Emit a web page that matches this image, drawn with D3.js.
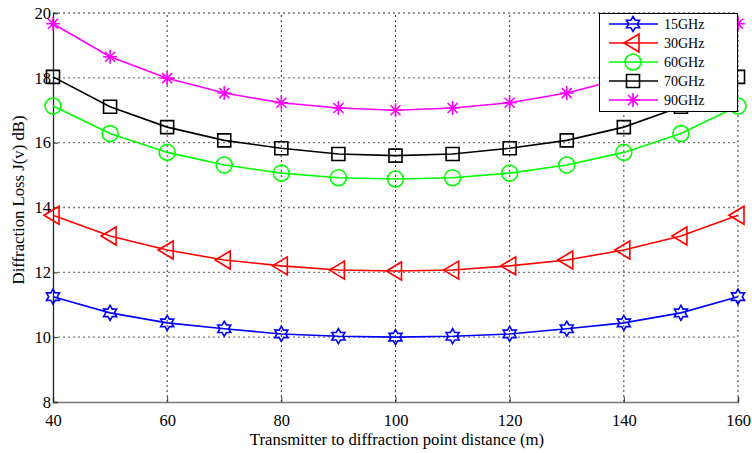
<!DOCTYPE html>
<html><head><meta charset="utf-8">
<script src="https://cdnjs.cloudflare.com/ajax/libs/d3/7.8.5/d3.min.js"></script>
<style>body{margin:0;background:#fff}svg{display:block}text{font-family:"Liberation Serif","Times New Roman",serif}</style>
</head><body><svg id="c" width="752" height="453"></svg>
<script>
const distances = [40,50,60,70,80,90,100,110,120,130,140,150,160];
const seriesNames = ["15GHz","30GHz","60GHz","70GHz","90GHz"];
const loss15 = [11.25,10.75,10.44,10.26,10.1,10.03,10.0,10.03,10.1,10.26,10.44,10.75,11.25];
const loss30 = [13.76,13.12,12.69,12.38,12.2,12.07,12.04,12.07,12.2,12.38,12.69,13.12,13.76];
const loss60 = [17.13,16.28,15.7,15.31,15.06,14.92,14.88,14.92,15.06,15.31,15.7,16.28,17.13];
const loss70 = [18.03,17.11,16.48,16.07,15.83,15.65,15.6,15.65,15.83,16.07,16.48,17.11,18.03];
const loss90 = [19.67,18.65,17.99,17.53,17.23,17.07,17.0,17.07,17.23,17.53,17.99,18.65,19.67];
const xTicks = [40,60,80,100,120,140,160];
const yTicks = [8,10,12,14,16,18,20];

const colors = ["#0000ff","#ff0000","#00ff00","#000000","#ff00ff"];
const markers = ["hexagram","triangleLeft","circle","square","asterisk"];
const allSeries = [loss15, loss30, loss60, loss70, loss90];

const svg = d3.select("#c");
const m = {l:53, r:14, t:13, b:51};
const W = 752, H = 453;
const x = d3.scaleLinear().domain([40,160]).range([m.l, W - m.r]);
const y = d3.scaleLinear().domain([8,20]).range([H - m.b, m.t]);

// grid
const g = svg.append("g");
g.selectAll(".hg").data(yTicks.filter(v => v > 8)).join("line")
  .attr("x1", x(40)).attr("x2", x(160)).attr("y1", d => y(d)).attr("y2", d => y(d))
  .attr("stroke", "#777").attr("stroke-width", 1.3).attr("stroke-dasharray", "2,3");
g.selectAll(".vg").data(xTicks.filter(v => v > 40)).join("line")
  .attr("y1", y(8)).attr("y2", y(20)).attr("x1", d => x(d)).attr("x2", d => x(d))
  .attr("stroke", "#333").attr("stroke-width", 1).attr("stroke-dasharray", "2,3");

// axes
const xAxis = svg.append("g").attr("transform", `translate(0,${y(8)})`)
  .call(d3.axisBottom(x).tickValues(xTicks).tickSize(-5).tickPadding(12));
xAxis.select(".domain").attr("stroke", "#777").attr("stroke-width", 1.6);
xAxis.selectAll(".tick line").attr("stroke", "#333");
xAxis.selectAll("text").attr("font-size", 16.5).attr("fill", "#000")
  .attr("font-family", "Liberation Serif");

const yAxis = svg.append("g").attr("transform", `translate(${x(40)},0)`)
  .call(d3.axisLeft(y).tickValues(yTicks).tickSize(-5).tickPadding(2));
yAxis.select(".domain").attr("stroke", "#222").attr("stroke-width", 1.3);
yAxis.selectAll(".tick line").attr("stroke", "#333");
yAxis.selectAll("text").attr("font-size", 16.5).attr("fill", "#000")
  .attr("font-family", "Liberation Serif");

// labels
svg.append("text").attr("x", 397).attr("y", 445).attr("text-anchor", "middle")
  .attr("font-size", 16.7).text("Transmitter to diffraction point distance (m)");
svg.append("text").attr("transform", "translate(24,200) rotate(-90)").attr("text-anchor", "middle")
  .attr("font-size", 16.7).text("Diffraction Loss J(v) dB)");

function markerPath(type) {
  const p = d3.path();
  if (type === "hexagram") {
    const R = 7.5, r = R / Math.sqrt(3);
    for (let i = 0; i < 12; i++) {
      const a = -Math.PI / 2 + i * Math.PI / 6;
      const rr = i % 2 === 0 ? R : r;
      const px = rr * Math.cos(a), py = rr * Math.sin(a);
      i === 0 ? p.moveTo(px, py) : p.lineTo(px, py);
    }
    p.closePath();
  } else if (type === "triangleLeft") {
    p.moveTo(-9, 0); p.lineTo(6, -9); p.lineTo(6, 9); p.closePath();
  } else if (type === "circle") {
    p.arc(0, 0, 8, 0, 2 * Math.PI);
  } else if (type === "square") {
    p.rect(-6.5, -6.5, 13, 13);
  } else if (type === "asterisk") {
    const s = 7, d = 5;
    p.moveTo(0, -s); p.lineTo(0, s);
    p.moveTo(-s, 0); p.lineTo(s, 0);
    p.moveTo(-d, -d); p.lineTo(d, d);
    p.moveTo(-d, d); p.lineTo(d, -d);
  }
  return p.toString();
}

const line = d3.line().x((d, i) => x(distances[i])).y(d => y(d));
allSeries.forEach((vals, k) => {
  const sg = svg.append("g");
  sg.append("path").datum(vals).attr("d", line).attr("fill", "none")
    .attr("stroke", colors[k]).attr("stroke-width", 1.6);
  sg.selectAll("path.mk").data(vals).join("path").attr("class", "mk")
    .attr("transform", (d, i) => `translate(${x(distances[i])},${y(d)})`)
    .attr("d", markerPath(markers[k])).attr("fill", "none")
    .attr("stroke", colors[k]).attr("stroke-width", 1.6);
});

// legend
const lg = svg.append("g");
lg.append("rect").attr("x", 599.5).attr("y", 13.5).attr("width", 138).attr("height", 98)
  .attr("fill", "#fff").attr("stroke", "#000").attr("stroke-width", 1);
seriesNames.forEach((nm, k) => {
  const yy = 24 + k * 19;
  lg.append("line").attr("x1", 609).attr("x2", 658).attr("y1", yy).attr("y2", yy)
    .attr("stroke", colors[k]).attr("stroke-width", 1.6);
  lg.append("path").attr("transform", `translate(633,${yy})`).attr("d", markerPath(markers[k]))
    .attr("fill", "none").attr("stroke", colors[k]).attr("stroke-width", 1.6);
  lg.append("text").attr("x", 664).attr("y", yy + 5).attr("font-size", 14).text(nm);
});
</script></body></html>
